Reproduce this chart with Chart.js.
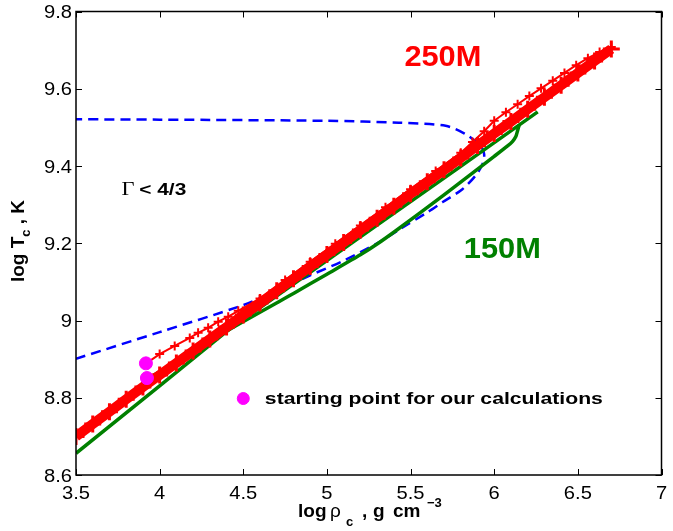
<!DOCTYPE html>
<html>
<head>
<meta charset="utf-8">
<script src="https://cdn.jsdelivr.net/npm/chart.js@4.4.0/dist/chart.umd.min.js"></script>
<style>
  body { margin: 0; background: #fff; }
  #wrap { position: relative; width: 673px; height: 531px; }
</style>
</head>
<body>
<div id="wrap"><canvas id="chart"></canvas></div>
<script>
// axis ticks
const xTicks = [3.5, 4, 4.5, 5, 5.5, 6, 6.5, 7];
const yTicks = [8.6, 8.8, 9.0, 9.2, 9.4, 9.6, 9.8];

// 250M track, dense band
const bandX = [3.5, 3.6, 3.7, 3.8, 3.9, 4.0, 4.1, 4.2, 4.3, 4.4, 4.5, 4.6, 4.7, 4.8, 4.9, 5.0, 5.1,
  5.2, 5.3, 5.4, 5.5, 5.6, 5.7, 5.8, 5.9, 6.0, 6.1, 6.2, 6.3, 6.4, 6.5, 6.6, 6.7];
const bandY = [8.700, 8.732, 8.764, 8.796, 8.828, 8.859, 8.890, 8.921, 8.952, 8.983, 9.014, 9.045,
  9.077, 9.108, 9.140, 9.171, 9.202, 9.234, 9.265, 9.296, 9.328, 9.359, 9.390, 9.421, 9.453, 9.484,
  9.515, 9.547, 9.578, 9.609, 9.641, 9.672, 9.703];

// 250M track, thin line from the starting point
const thinX = [3.92, 4.0, 4.09, 4.18, 4.23, 4.29, 4.35, 4.41, 4.47, 4.6, 4.75, 4.9, 5.05, 5.2, 5.35,
  5.5, 5.65, 5.8, 5.87, 5.94, 6.0, 6.07, 6.14, 6.21, 6.28, 6.35, 6.42, 6.49, 6.56, 6.63, 6.7];
const thinY = [8.889, 8.913, 8.934, 8.955, 8.968, 8.981, 8.997, 9.010, 9.025, 9.057, 9.105, 9.152,
  9.199, 9.246, 9.293, 9.340, 9.387, 9.434, 9.462, 9.490, 9.517, 9.539, 9.560, 9.581, 9.601, 9.621,
  9.641, 9.661, 9.679, 9.695, 9.708];

// 150M track
const greenAX = [3.5, 4.0, 4.41, 4.9, 5.3, 5.8, 6.26];
const greenAY = [8.656, 8.831, 8.975, 9.125, 9.247, 9.399, 9.540];
const greenBX = [3.93, 4.1, 4.41, 4.8, 5.0, 5.2, 5.3, 5.42, 5.7, 6.0, 6.08, 6.11, 6.13, 6.14, 6.15];
const greenBY = [8.850, 8.893, 8.975, 9.070, 9.120, 9.170, 9.198, 9.235, 9.325, 9.425, 9.452, 9.464,
  9.477, 9.492, 9.507];

// Gamma = 4/3 boundary
const blueX = [3.5, 4.0, 4.5, 4.7, 4.9, 5.1, 5.3, 5.45, 5.6, 5.69, 5.81, 5.89, 5.93, 5.94, 5.92,
  5.89, 5.83, 5.71, 5.43, 5.0, 4.0, 3.5];
const blueY = [8.901, 8.970, 9.040, 9.077, 9.117, 9.155, 9.200, 9.240, 9.280, 9.306, 9.340, 9.376,
  9.405, 9.430, 9.452, 9.463, 9.482, 9.504, 9.512, 9.517, 9.520, 9.521];

// starting points + legend marker
const startX = [3.918, 3.924];
const startY = [8.889, 8.851];
const legendX = [4.5];
const legendY = [8.798];

const pts = (xs, ys) => xs.map((x, i) => ({ x: x, y: ys[i] }));

function drawText(ctx, str, x, y, font, color, align, stretch) {
  ctx.save();
  ctx.font = font;
  ctx.fillStyle = color;
  ctx.textAlign = align || 'left';
  ctx.textBaseline = 'alphabetic';
  ctx.translate(x, y);
  ctx.scale(stretch || 1, 1);
  ctx.fillText(str, 0, 0);
  ctx.restore();
}

// stretch text to a measured width
function fitText(ctx, str, x, y, font, color, width) {
  ctx.save();
  ctx.font = font;
  const w = ctx.measureText(str).width;
  ctx.restore();
  drawText(ctx, str, x, y, font, color, 'left', width / w);
}

const frame = {
  id: 'frame',
  afterDraw(chart) {
    const ctx = chart.ctx, a = chart.chartArea;
    const sx = chart.scales.x, sy = chart.scales.y;
    ctx.save();
    ctx.strokeStyle = '#000';
    ctx.lineWidth = 1.5;
    ctx.strokeRect(a.left, a.top, a.right - a.left, a.bottom - a.top);
    ctx.lineWidth = 1;
    ctx.beginPath();
    xTicks.forEach(v => {
      const px = Math.round(sx.getPixelForValue(v)) + 0.5;
      ctx.moveTo(px, a.bottom); ctx.lineTo(px, a.bottom - 6);
      ctx.moveTo(px, a.top); ctx.lineTo(px, a.top + 6);
    });
    yTicks.forEach(v => {
      const py = Math.round(sy.getPixelForValue(v)) + 0.5;
      ctx.moveTo(a.left, py); ctx.lineTo(a.left + 6, py);
      ctx.moveTo(a.right, py); ctx.lineTo(a.right - 6, py);
    });
    ctx.stroke();
    ctx.restore();

    const tickFont = '18px "Liberation Sans", Arial, sans-serif';
    xTicks.forEach(v => {
      drawText(ctx, String(v), sx.getPixelForValue(v), a.bottom + 24, tickFont, '#000', 'center', 1.12);
    });
    yTicks.forEach(v => {
      drawText(ctx, String(+v.toFixed(1)), a.left - 4, sy.getPixelForValue(v) + 6.5, tickFont, '#000', 'right', 1.12);
    });

    // x title
    const b = 'bold 19px "Liberation Sans", Arial, sans-serif';
    const bs = 'bold 13px "Liberation Sans", Arial, sans-serif';
    drawText(ctx, 'log', 298, 517, b, '#000');
    drawText(ctx, 'ρ', 330, 517, '19px "Liberation Sans", Arial, sans-serif', '#000');
    drawText(ctx, 'c', 346, 526, bs, '#000');
    drawText(ctx, ',', 362, 517, b, '#000');
    drawText(ctx, 'g', 373, 517, b, '#000');
    drawText(ctx, 'cm', 393, 517, b, '#000');
    drawText(ctx, '−3', 427, 507, bs, '#000');

    // y title, rotated
    ctx.save();
    ctx.translate(24, 241);
    ctx.rotate(-Math.PI / 2);
    ctx.font = b;
    const w1 = ctx.measureText('log T').width;
    ctx.font = bs;
    const w2 = ctx.measureText('c').width;
    ctx.font = b;
    const w3 = ctx.measureText(' , K').width;
    let x0 = -(w1 + w2 + w3) / 2;
    drawText(ctx, 'log T', x0, 0, b, '#000');
    drawText(ctx, 'c', x0 + w1, 6, bs, '#000');
    drawText(ctx, ' , K', x0 + w1 + w2, 0, b, '#000');
    ctx.restore();

    // annotations
    fitText(ctx, '250M', sx.getPixelForValue(5.463), sy.getPixelForValue(9.659),
      'bold 29px "Liberation Sans", Arial, sans-serif', '#ff0000', 77);
    fitText(ctx, '150M', sx.getPixelForValue(5.818), sy.getPixelForValue(9.163),
      'bold 29px "Liberation Sans", Arial, sans-serif', '#008000', 77);
    fitText(ctx, 'Γ', sx.getPixelForValue(3.772), sy.getPixelForValue(9.325),
      '18px "Liberation Serif", "Times New Roman", serif', '#000', 13);
    fitText(ctx, '< 4/3', sx.getPixelForValue(3.878), sy.getPixelForValue(9.325),
      'bold 17px "Liberation Sans", Arial, sans-serif', '#000', 47);
    fitText(ctx, 'starting point for our calculations', sx.getPixelForValue(4.629), sy.getPixelForValue(8.784),
      'bold 17px "Liberation Sans", Arial, sans-serif', '#000', 338);
  }
};

new Chart(document.getElementById('chart'), {
  type: 'scatter',
  data: {
    datasets: [
      {
        label: 'start',
        data: pts(startX, startY),
        backgroundColor: '#ff00ff',
        borderColor: '#ff00ff',
        pointRadius: 6.5,
        showLine: false
      },
      {
        label: 'legend marker',
        data: pts(legendX, legendY),
        backgroundColor: '#ff00ff',
        borderColor: '#ff00ff',
        pointRadius: 6,
        showLine: false
      },
      {
        label: '250M thin',
        data: pts(thinX, thinY),
        showLine: true,
        borderColor: '#ff0000',
        borderWidth: 2,
        pointStyle: 'cross',
        pointRadius: 4.5,
        pointBorderWidth: 2,
        pointBorderColor: '#ff0000'
      },
      {
        label: '250M band',
        data: pts(bandX, bandY),
        showLine: true,
        borderColor: '#ff0000',
        borderWidth: 10,
        pointStyle: 'cross',
        pointRadius: 8.5,
        pointBorderWidth: 3,
        pointBorderColor: '#ff0000'
      },
      {
        label: '150M a',
        data: pts(greenAX, greenAY),
        showLine: true,
        borderColor: '#008000',
        borderWidth: 3.5,
        pointRadius: 0
      },
      {
        label: '150M b',
        data: pts(greenBX, greenBY),
        showLine: true,
        borderColor: '#008000',
        borderWidth: 3.5,
        pointRadius: 0,
        tension: 0.2
      },
      {
        label: 'Gamma 4/3',
        data: pts(blueX, blueY),
        showLine: true,
        borderColor: '#0000ff',
        borderWidth: 2.5,
        borderDash: [10, 6],
        pointRadius: 0,
        tension: 0.3
      }
    ]
  },
  options: {
    responsive: true,
    maintainAspectRatio: false,
    animation: false,
    layout: { padding: { top: 8, right: 5, left: 0, bottom: 0 } },
    plugins: { legend: { display: false }, tooltip: { enabled: false } },
    scales: {
      x: {
        type: 'linear', min: 3.5, max: 7,
        grid: { display: false }, border: { display: false },
        ticks: { display: false },
        afterFit(s) { s.height = 56; }
      },
      y: {
        type: 'linear', min: 8.6, max: 9.8,
        grid: { display: false }, border: { display: false },
        ticks: { display: false },
        afterFit(s) { s.width = 76; }
      }
    }
  },
  plugins: [frame]
});
</script>
</body>
</html>
